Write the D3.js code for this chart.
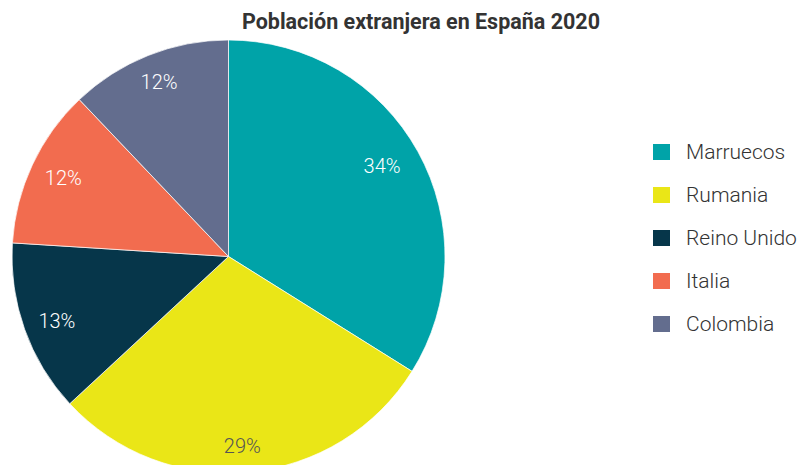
<!DOCTYPE html>
<html><head><meta charset="utf-8">
<script src="https://cdn.jsdelivr.net/npm/d3@7"></script>
<style>body{margin:0;background:#fff;} svg{display:block;}</style>
</head><body>
<svg id="c" width="798" height="465"></svg>
<script>
const categories = ["Marruecos", "Rumania", "Reino Unido", "Italia", "Colombia"];
const values = [33.9, 29.2, 12.9, 11.9, 12.1];
const colors = ["#00A3A8", "#EAE617", "#06364A", "#F26C4F", "#636D8E"];
const labelColors = ["#ffffff", "#555555", "#ffffff", "#ffffff", "#ffffff"];
const title = "Población extranjera en España 2020";

const svg = d3.select("#c");
const cx = 228.5, cy = 256.5, R = 216.5;
const data = categories.map((c, i) => ({ name: c, value: values[i], color: colors[i], lc: labelColors[i] }));
const pie = d3.pie().value(d => d.value).sort(null);
const arcs = pie(data);
const arc = d3.arc().innerRadius(0).outerRadius(R);
const total = d3.sum(values);
const lrx = 179, lry = 189;
function labelPos(d) {
  const a = (d.startAngle + d.endAngle) / 2;
  return [-3 + lrx * Math.sin(a), 1.5 - lry * Math.cos(a)];
}

const g = svg.append("g").attr("transform", `translate(${cx},${cy})`);
g.selectAll("path").data(arcs).join("path")
  .attr("d", arc).attr("fill", d => d.data.color)
  .attr("stroke", "#fff").attr("stroke-width", 0.7);
g.selectAll("text").data(arcs).join("text")
  .attr("transform", d => `translate(${labelPos(d)})`)
  .attr("text-anchor", "middle").attr("dy", "0.35em")
  .attr("font-family", "Roboto").attr("font-weight", 300).attr("font-size", 20)
  .attr("fill", d => d.data.lc)
  .text(d => Math.round(d.data.value / total * 100) + "%");

svg.append("text").attr("x", 421).attr("y", 29).attr("text-anchor", "middle")
  .attr("font-family", "Roboto").attr("font-weight", 700).attr("font-size", 21.5)
  .attr("fill", "#333").text(title);

const lg = svg.append("g");
const y0 = 152, step = 43;
categories.forEach((c, i) => {
  lg.append("rect").attr("x", 653).attr("y", y0 + i * step - 8).attr("width", 17).attr("height", 16).attr("fill", colors[i]);
  lg.append("text").attr("x", 686).attr("y", y0 + i * step).attr("dy", "0.35em")
    .attr("font-family", "Roboto").attr("font-weight", 300).attr("font-size", 21)
    .attr("fill", "#333").text(c);
});
</script>
</body></html>
